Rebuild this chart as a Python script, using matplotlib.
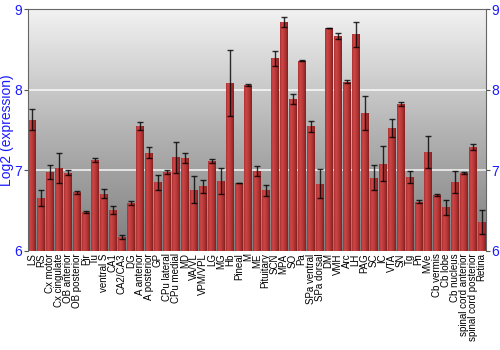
import numpy as np
import matplotlib
matplotlib.use("Agg")
import matplotlib.pyplot as plt
from matplotlib.colors import LinearSegmentedColormap

plt.rcParams['font.family'] = ['Liberation Sans', 'DejaVu Sans']

regions = ["LS", "RS", "Cx motor", "Cx cingulate", "OB anterior", "OB posterior", "Pir", "Tu",
           "ventral S", "CA1", "CA2/CA3", "DG", "A anterior", "A posterior", "GP", "CPu lateral",
           "CPu medial", "MD", "VA/VL", "VPM/VPL", "LG", "MG", "Hb", "Pineal", "M", "ME",
           "Pituitary", "SCN", "MPA", "SO", "Pa", "SPa ventral", "SPa dorsal", "DM", "VMH", "Arc",
           "LH", "PAG", "SC", "IC", "VTA", "SN", "Tg", "Pn", "MVe", "Cb vermis", "Cb lobe",
           "Cb nucleus", "spinal cord anterior", "spinal cord posterior", "Retina"]

expr = [7.63, 6.65, 6.98, 7.03, 6.97, 6.725, 6.48, 7.13,
        6.71, 6.51, 6.17, 6.59, 7.545, 7.22, 6.85, 6.98,
        7.16, 7.15, 6.76, 6.80, 7.11, 6.87, 8.08, 6.84, 8.06, 6.99,
        6.75, 8.39, 8.84, 7.885, 8.36, 7.545, 6.83, 8.77, 8.67, 8.10,
        8.69, 7.71, 6.905, 7.08, 7.525, 7.82, 6.915, 6.61, 7.225, 6.69, 6.54,
        6.85, 6.965, 7.29, 6.36]

err = [0.13, 0.10, 0.09, 0.19, 0.03, 0.02, 0.01, 0.025,
       0.06, 0.05, 0.02, 0.025, 0.05, 0.065, 0.09, 0.025,
       0.195, 0.06, 0.165, 0.08, 0.025, 0.16, 0.41, 0.005, 0.015, 0.065,
       0.07, 0.09, 0.06, 0.06, 0.005, 0.07, 0.18, 0.005, 0.04, 0.02,
       0.155, 0.21, 0.155, 0.22, 0.11, 0.025, 0.08, 0.015, 0.195, 0.015, 0.095,
       0.135, 0.015, 0.035, 0.15]

blue = "#1a1aff"

fig = plt.figure(figsize=(5, 3.5), dpi=100)
ax = fig.add_axes([0.055, 0.284, 0.917, 0.689])

# grey background gradient
bg = LinearSegmentedColormap.from_list("bg", ["#7e7e7e", "#b4b4b4", "#f2f2f2"])
grad = np.linspace(0, 1, 256).reshape(-1, 1)
ax.imshow(grad, cmap=bg, aspect="auto", extent=[0, 1, 0, 1], origin="lower",
          transform=ax.transAxes, zorder=0)

for v in (7, 8):
    ax.axhline(v, color="white", lw=1.2, alpha=0.85, zorder=1)

x = np.arange(len(regions))
bars = ax.bar(x, np.array(expr) - 6, bottom=6, width=0.86, color="#c03c3c",
              edgecolor="none", zorder=2)

# cylinder-like shading on each bar
shade = LinearSegmentedColormap.from_list("bar", ["#ac3232", "#cc4646", "#c03c3c", "#a83030", "#842020"])
hgrad = np.linspace(0, 1, 64).reshape(1, -1)
for b in bars:
    x0, w = b.get_x(), b.get_width()
    im = ax.imshow(hgrad, cmap=shade, aspect="auto",
                   extent=[x0, x0 + w, 6, 6 + b.get_height()], zorder=2.5)
    im.set_clip_path(b)

ax.errorbar(x, expr, yerr=err, fmt="none", ecolor="black", elinewidth=1,
            capsize=2.2, capthick=1, alpha=0.8, zorder=3)

ax.set_xlim(-0.5, 50.5)
ax.set_ylim(6, 9)
ax.set_yticks([6, 7, 8, 9])
ax.set_xticks(x)
ax.set_xticklabels(regions, rotation=90, fontsize=7)
ax.tick_params(axis="x", length=0, pad=2)
ax.tick_params(axis="y", labelcolor=blue, labelsize=10, length=3, color="#555555",
               right=True, labelright=True, pad=1)
ax.set_ylabel("Log2 (expression)", color=blue, fontsize=10)
ax.yaxis.set_label_coords(-0.029, 0.5)

for s in ax.spines.values():
    s.set_color("#666666")
ax.spines["bottom"].set_visible(False)

fig.savefig("out.png", dpi=100)
